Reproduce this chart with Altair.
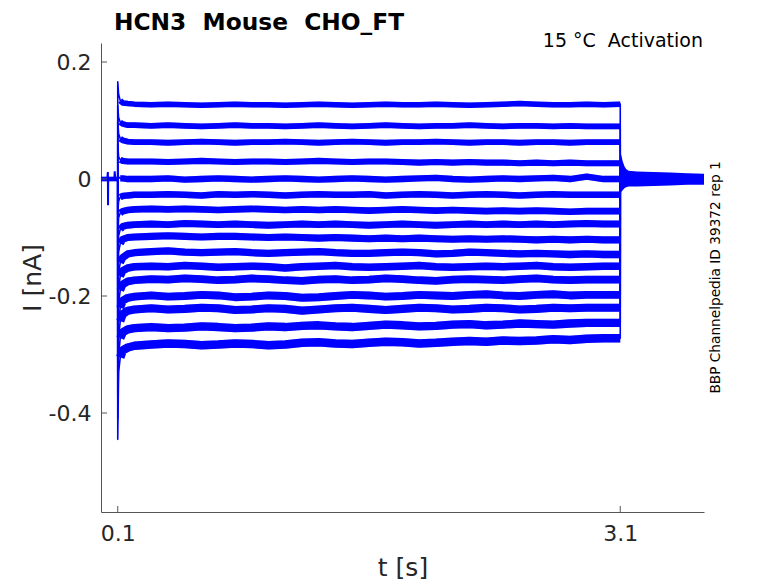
import altair as alt
import pandas as pd

# ---------------- data ----------------
T_GRID = [0.1, 0.105, 0.115, 0.13, 0.16, 0.2,
          0.3, 0.4, 0.5, 0.6, 0.7, 0.8, 0.9, 1.0, 1.1, 1.2,
          1.3, 1.4, 1.5, 1.6, 1.7, 1.8, 1.9, 2.0, 2.1, 2.2,
          2.3, 2.4, 2.5, 2.6, 2.7, 2.8, 2.9, 3.0,
          3.1]

T1 = [0.166, 0.145, 0.134, 0.130, 0.129, 0.128,
      0.127, 0.128, 0.127, 0.126, 0.127, 0.128, 0.127, 0.127, 0.126, 0.127,
      0.128, 0.127, 0.126, 0.127, 0.128, 0.127, 0.127, 0.128, 0.127, 0.126,
      0.127, 0.128, 0.129, 0.128, 0.127, 0.127, 0.128, 0.127,
      0.128]
T2 = [0.125, 0.105, 0.097, 0.094, 0.092, 0.092,
      0.091, 0.092, 0.091, 0.090, 0.091, 0.092, 0.091, 0.091, 0.090, 0.091,
      0.092, 0.091, 0.090, 0.091, 0.092, 0.091, 0.090, 0.091, 0.091, 0.092,
      0.091, 0.090, 0.091, 0.091, 0.090, 0.091, 0.090, 0.090,
      0.090]
T3 = [0.100, 0.078, 0.069, 0.066, 0.064, 0.063,
      0.063, 0.062, 0.063, 0.064, 0.063, 0.062, 0.063, 0.063, 0.064, 0.063,
      0.062, 0.063, 0.064, 0.063, 0.062, 0.063, 0.063, 0.064, 0.063, 0.062,
      0.063, 0.063, 0.062, 0.063, 0.063, 0.062, 0.063, 0.063,
      0.063]
T4 = [0.060, 0.038, 0.033, 0.031, 0.030, 0.030,
      0.030, 0.029, 0.030, 0.031, 0.030, 0.029, 0.030, 0.030, 0.029, 0.030,
      0.031, 0.030, 0.029, 0.030, 0.030, 0.029, 0.028, 0.029, 0.028, 0.029,
      0.028, 0.028, 0.027, 0.028, 0.027, 0.028, 0.027, 0.027,
      0.027]
T5 = [0.010, 0.003, 0.001, 0.001, 0.000, 0.000,
      0.000, 0.001, -0.001, 0.000, 0.001, 0.000, -0.001, 0.000, 0.001, 0.000,
      -0.001, 0.000, 0.001, 0.000, -0.001, 0.000, 0.001, 0.002, 0.000, -0.001,
      0.000, 0.001, 0.000, 0.001, 0.002, 0.000, 0.004, 0.000,
      0.000]
T6 = [-0.060, -0.038, -0.031, -0.029, -0.028, -0.027,
      -0.027, -0.026, -0.027, -0.028, -0.026, -0.027, -0.026, -0.027, -0.028, -0.027,
      -0.026, -0.027, -0.027, -0.026, -0.028, -0.027, -0.026, -0.027, -0.028, -0.027,
      -0.026, -0.027, -0.028, -0.027, -0.026, -0.027, -0.027, -0.027,
      -0.027]
T7 = [-0.100, -0.066, -0.058, -0.055, -0.053, -0.052,
      -0.051, -0.052, -0.051, -0.052, -0.053, -0.052, -0.051, -0.052, -0.053, -0.052,
      -0.053, -0.052, -0.053, -0.054, -0.053, -0.052, -0.053, -0.054, -0.053, -0.054,
      -0.055, -0.054, -0.055, -0.054, -0.055, -0.056, -0.055, -0.055,
      -0.055]
T8 = [-0.140, -0.097, -0.086, -0.081, -0.079, -0.078,
      -0.077, -0.078, -0.076, -0.077, -0.078, -0.077, -0.078, -0.079, -0.078, -0.077,
      -0.078, -0.077, -0.078, -0.079, -0.078, -0.077, -0.078, -0.079, -0.078, -0.077,
      -0.078, -0.077, -0.078, -0.077, -0.078, -0.077, -0.076, -0.077,
      -0.077]
T9 = [-0.180, -0.125, -0.110, -0.103, -0.100, -0.099,
      -0.098, -0.097, -0.098, -0.099, -0.098, -0.098, -0.099, -0.100, -0.099, -0.100,
      -0.101, -0.100, -0.101, -0.102, -0.101, -0.102, -0.101, -0.102, -0.103, -0.102,
      -0.103, -0.102, -0.103, -0.104, -0.103, -0.104, -0.103, -0.104,
      -0.104]
T10 = [-0.220, -0.160, -0.143, -0.134, -0.128, -0.126,
       -0.124, -0.123, -0.125, -0.126, -0.125, -0.124, -0.126, -0.127, -0.126, -0.125,
       -0.124, -0.126, -0.127, -0.127, -0.126, -0.125, -0.126, -0.128, -0.127, -0.125,
       -0.126, -0.127, -0.128, -0.127, -0.128, -0.129, -0.128, -0.129,
       -0.129]
T11 = [-0.260, -0.185, -0.166, -0.157, -0.152, -0.150,
       -0.149, -0.150, -0.148, -0.149, -0.151, -0.150, -0.149, -0.150, -0.152, -0.150,
       -0.149, -0.148, -0.150, -0.151, -0.150, -0.149, -0.148, -0.150, -0.151, -0.150,
       -0.149, -0.150, -0.149, -0.148, -0.150, -0.151, -0.150, -0.149,
       -0.149]
T12 = [-0.300, -0.212, -0.190, -0.180, -0.175, -0.173,
       -0.171, -0.172, -0.170, -0.171, -0.173, -0.172, -0.170, -0.171, -0.173, -0.174,
       -0.172, -0.171, -0.173, -0.172, -0.170, -0.171, -0.173, -0.174, -0.172, -0.171,
       -0.172, -0.173, -0.171, -0.170, -0.172, -0.173, -0.172, -0.172,
       -0.172]
T13 = [-0.330, -0.245, -0.220, -0.208, -0.203, -0.201,
       -0.199, -0.201, -0.200, -0.198, -0.199, -0.202, -0.201, -0.199, -0.200, -0.203,
       -0.202, -0.200, -0.198, -0.199, -0.201, -0.200, -0.198, -0.199, -0.200, -0.198,
       -0.197, -0.199, -0.200, -0.198, -0.197, -0.199, -0.198, -0.198,
       -0.198]
T14 = [-0.370, -0.270, -0.243, -0.231, -0.225, -0.223,
       -0.221, -0.223, -0.222, -0.220, -0.221, -0.224, -0.223, -0.221, -0.222, -0.225,
       -0.223, -0.221, -0.220, -0.222, -0.224, -0.222, -0.220, -0.221, -0.223, -0.222,
       -0.220, -0.221, -0.223, -0.222, -0.220, -0.221, -0.220, -0.220,
       -0.220]
T15 = [-0.410, -0.300, -0.272, -0.262, -0.257, -0.255,
       -0.253, -0.255, -0.254, -0.252, -0.253, -0.255, -0.254, -0.252, -0.253, -0.251,
       -0.250, -0.252, -0.253, -0.251, -0.249, -0.250, -0.252, -0.251, -0.249, -0.248,
       -0.250, -0.249, -0.247, -0.248, -0.249, -0.247, -0.246, -0.246,
       -0.246]
T16 = [-0.445, -0.330, -0.305, -0.293, -0.288, -0.285,
       -0.283, -0.281, -0.282, -0.284, -0.283, -0.281, -0.282, -0.284, -0.283, -0.280,
       -0.279, -0.281, -0.282, -0.280, -0.278, -0.279, -0.281, -0.280, -0.278, -0.277,
       -0.278, -0.276, -0.277, -0.276, -0.274, -0.275, -0.273, -0.272,
       -0.272]
TRACES = [T1, T2, T3, T4, T5, T6, T7, T8, T9, T10, T11, T12, T13, T14, T15, T16]

# holding current before the step (with the small artefact)
PRE_T = [0.0, 0.01, 0.02, 0.03, 0.038, 0.041, 0.042, 0.043, 0.045, 0.05,
         0.06, 0.07, 0.08, 0.082, 0.085, 0.09, 0.1]
PRE_V = [0.000, 0.001, -0.001, 0.000, 0.002, 0.012, -0.045, 0.003, -0.002, 0.001,
         -0.001, 0.000, 0.002, 0.013, 0.000, -0.001, 0.000]
PRE_BAND_T = [0.0, 0.1]
PRE_BAND_LO = [-0.004, -0.004]
PRE_BAND_HI = [0.004, 0.004]

# tail current after the step (noise envelope)
TAIL_T = [3.1, 3.105, 3.115, 3.125, 3.135, 3.15, 3.2, 3.3, 3.4, 3.5, 3.6]
TAIL_HI = [0.050, 0.042, 0.030, 0.022, 0.017, 0.014, 0.013, 0.012, 0.011, 0.010, 0.009]
TAIL_LO = [-0.025, -0.022, -0.019, -0.016, -0.014, -0.013, -0.013, -0.012, -0.011, -0.010, -0.010]

X_TICKS = [0.1, 3.1]
Y_TICKS = [0.2, 0.0, -0.2, -0.4]

TITLE = "HCN3\u00a0\u00a0Mouse\u00a0\u00a0CHO_FT"
NOTE = "15\u00a0°C\u00a0\u00a0Activation"
SIDE = "BBP Channelpedia ID 39372 rep 1"

# ---------------- tables ----------------
rows = []
for k, vals in enumerate(TRACES, start=1):
    rows.append({"t": 0.1, "v": 0.0, "k": k, "idx": 0})
    for j, (t, v) in enumerate(zip(T_GRID, vals)):
        rows.append({"t": t, "v": v, "k": k, "idx": j + 1})
    rows.append({"t": 3.1, "v": 0.0, "k": k, "idx": len(T_GRID) + 1})
traces_df = pd.DataFrame(rows)
last_idx = len(T_GRID)

pre_df = pd.DataFrame({"t": PRE_T, "v": PRE_V})
pre_band_df = pd.DataFrame({"t": PRE_BAND_T, "lo": PRE_BAND_LO, "hi": PRE_BAND_HI})
tail_df = pd.DataFrame({"t": TAIL_T, "lo": TAIL_LO, "hi": TAIL_HI})
xt_df = pd.DataFrame({"t": X_TICKS})
yt_df = pd.DataFrame({"v": Y_TICKS})
title_df = pd.DataFrame({"label": [TITLE]})
note_df = pd.DataFrame({"label": [NOTE]})
side_df = pd.DataFrame({"label": [SIDE]})

# ---------------- layout ----------------
W, H = 603, 469
BLUE = "#0000ff"
FONT = "DejaVu Sans"
TXT = "#262626"
NB = "\u00a0"

XS = alt.Scale(domain=[0, 3.6], nice=False, zero=False)
YS = alt.Scale(domain=[-0.5692, 0.2325], nice=False, zero=False)

XAX = alt.Axis(values=X_TICKS, format=".1f", ticks=False, tickSize=0, grid=False,
               labelPadding=11, labelFontSize=22, labelFont=FONT, labelColor=TXT,
               labelFlush=False, domainColor="#555555", domainWidth=1,
               title="t [s]", titleFont=FONT, titleFontSize=25, titleFontWeight="normal",
               titleColor=TXT, titleX=W / 2, titleY=63, titleAlign="center",
               titleBaseline="alphabetic")
YAX = alt.Axis(values=Y_TICKS, ticks=False, tickSize=0, grid=False,
               labelExpr=("datum.value == 0 ? '0" + NB * 3 + "' : (datum.value < 0 ? '-' + "
                          "format(-datum.value, '.1f') : format(datum.value, '.1f') + '" + NB + "')"),
               labelPadding=10, labelFontSize=22, labelFont=FONT, labelColor=TXT,
               labelFlush=False, domainColor="#555555", domainWidth=1,
               title="I [nA]", titleFont=FONT, titleFontSize=25, titleFontWeight="normal",
               titleColor=TXT, titleAngle=270, titleX=-61, titleY=H / 2,
               titleAlign="center", titleBaseline="alphabetic")

def X(f):
    return alt.X(f, type="quantitative", scale=XS, axis=XAX)

def Y(f):
    return alt.Y(f, type="quantitative", scale=YS, axis=YAX)

pre_band = alt.Chart(pre_band_df).mark_area(color=BLUE, opacity=1).encode(
    x=X("t"), y=Y("lo"), y2="hi")
pre_line = alt.Chart(pre_df).mark_line(color=BLUE, strokeWidth=2).encode(
    x=X("t"), y=Y("v"))
tail = alt.Chart(tail_df).mark_area(color=BLUE, opacity=1).encode(
    x=X("t"), y=Y("lo"), y2="hi")

thin = alt.Chart(traces_df).mark_line(color=BLUE, strokeWidth=1.6, strokeJoin="round").encode(
    x=X("t"), y=Y("v"), detail="k:N", order="idx:Q")
plateau = alt.Chart(traces_df).transform_filter(
    f"datum.idx >= 3 && datum.idx <= {last_idx}")
halo = plateau.mark_line(color=BLUE, strokeJoin="round", opacity=0.3).encode(
    x=X("t"), y=Y("v"), detail="k:N", order="idx:Q",
    strokeWidth=alt.StrokeWidth("k:Q", scale=alt.Scale(domain=[1, 16], range=[5.5, 8.5]), legend=None))
core = plateau.mark_line(color=BLUE, strokeJoin="round").encode(
    x=X("t"), y=Y("v"), detail="k:N", order="idx:Q",
    strokeWidth=alt.StrokeWidth("k:Q", scale=alt.Scale(domain=[1, 16], range=[3.0, 4.6]), legend=None))

yticks = alt.Chart(yt_df).mark_rule(color="#555555", strokeWidth=1).encode(
    y=Y("v"), x=alt.value(0), x2=alt.value(6))
xticks = alt.Chart(xt_df).mark_rule(color="#555555", strokeWidth=1).encode(
    x=X("t"), y=alt.value(H), y2=alt.value(H - 6))

title = alt.Chart(title_df).mark_text(align="left", baseline="alphabetic", font=FONT,
                                      fontSize=23.3, fontWeight="bold", color="black").encode(
    x=alt.value(13), y=alt.value(-12.6), text="label:N")
note = alt.Chart(note_df).mark_text(align="right", baseline="alphabetic", font=FONT,
                                    fontSize=19, color="black").encode(
    x=alt.value(W - 1), y=alt.value(3.6), text="label:N")
side = alt.Chart(side_df).mark_text(align="center", baseline="alphabetic", font=FONT,
                                    fontSize=13.7, angle=270, color="black").encode(
    x=alt.value(W + 16), y=alt.value(H / 2), text="label:N")

chart = alt.layer(pre_band, pre_line, tail, thin, halo, core, yticks, xticks,
                  title, note, side).properties(
    width=W, height=H,
    autosize=alt.AutoSizeParams(type="none"),
    padding={"left": 93, "top": 35, "right": 50, "bottom": 70},
    background="white",
).configure_view(stroke="transparent")

chart.save("out.html", embed_options={"renderer": "svg", "actions": False})
